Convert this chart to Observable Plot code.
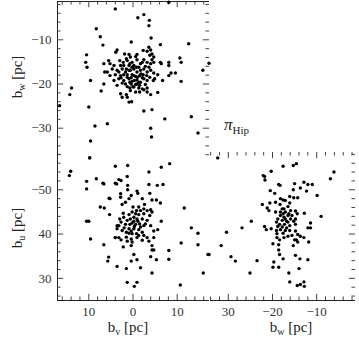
<!DOCTYPE html>
<html><head><meta charset="utf-8">
<script src="https://cdn.jsdelivr.net/npm/d3@7"></script>
<script src="https://cdn.jsdelivr.net/npm/@observablehq/plot@0.6"></script>
<style>
body{margin:0;background:#fff}
#c{position:relative;width:359px;height:341px}
#c svg{position:absolute;left:0;top:0;overflow:visible;background:transparent !important}
</style>
</head><body><div id="c"></div>
<script>
// ---- Panel A: b_w vs b_v (top left) ----
const topBv = [-8.1,4.0,-1.1,-2.45,-3.7,-3.6,-4.1,-12.6,-6.2,0.4,6.8,7.4,8.3,10.5,10.7,10.4,6.6,6.4,6.6,7.2,9.6,13.9,14.3,16.6,10.0,8.6,5.8,9.6,9.8,
 -10.6,-10.9,-8.1,-8.1,-6.2,-6.4,-17.2,-15.8,-9.6,-8.6,-8.1,-10.9,-6.7,-5.6,-2.45,-4.3,-7.2,-13.2,-4.0,-4.2,-14.7,-3.2,-4.0,0.9,0.3,2.8,2.45,1.5,1.3,
 -3.6,-4.0,-3.2,-2.3,-4.3,-3.8,-4.7,3.6,3.9,1.9,0.9,-0.9,-0.6,0.6,1.5,3.0,2.2,1.3,0.2,-0.9,-1.7,-2.45,-3.2,-4.0,-4.3,-4.7,5.5,5.2,4.3,2.8,0.9,-0.2,-1.3,-2.8,-3.6,
 5.8,4.7,3.6,2.45,1.7,0.6,-0.2,-0.9,-1.7,-2.45,-3.2,-4.0,-4.7,-5.6,4.0,2.8,1.3,0.2,-0.6,-1.5,-2.3,-3.1,-3.8,5.2,4.3,3.2,2.1,0.9,0.2,-0.9,-1.7,-2.45,-3.2,-4.6,-4.9,
 2.45,1.7,0.4,-0.6,-1.5,-2.8,3.6,0.7,-0.2,-1.3,-2.1,-3.2,0.6,-0.6,-2.45,-1.5,
 0.9,-0.2,-1.0,0.4,-0.3,0.7,1.3,2.1,-1.3,-2.1,1.5,0.2,-0.8,-1.8,0.7,2.1,-2.1,3.2,2.7,-0.9,0.0,1.3];
const topBw = [-1.5,-3.0,-5.0,-4.3,-5.6,-6.8,-9.6,-10.9,-11.1,-10.5,-11.2,-9.3,-7.5,-13.4,-15.1,-16.2,-15.4,-17.3,-20.0,-21.6,-19.2,-20.9,-22.4,-24.9,-25.2,-29.5,-29.0,-32.9,-36.7,
 -14.1,-15.1,-15.1,-15.8,-15.1,-15.4,-15.3,-16.9,-17.5,-17.5,-18.1,-19.4,-19.2,-21.9,-26.1,-25.8,-27.9,-27.4,-30.0,-32.0,-31.1,-21.8,-22.4,-24.1,-24.0,-22.2,-23.0,-22.4,-23.0,
 -11.7,-12.3,-12.6,-12.4,-13.2,-13.5,-13.9,-12.3,-12.8,-13.2,-13.3,-13.3,-13.8,-13.9,-14.3,-14.7,-15.1,-14.7,-15.1,-14.5,-15.4,-14.5,-15.1,-15.4,-14.5,-15.1,-14.7,-15.4,-15.8,-15.8,-15.8,-15.8,-16.2,-16.0,-16.2,
 -17.3,-16.6,-16.9,-16.6,-17.3,-16.9,-16.6,-17.3,-16.9,-16.6,-17.3,-16.9,-17.5,-17.9,-17.9,-18.1,-17.9,-17.9,-18.3,-18.1,-17.9,-18.1,-18.5,-18.1,-19.2,-18.8,-19.2,-18.8,-19.4,-19.1,-19.6,-18.8,-19.2,-19.2,-18.8,
 -19.8,-20.0,-20.0,-20.1,-20.3,-20.1,-20.3,-20.9,-20.7,-20.9,-21.1,-20.9,-21.5,-21.8,-21.3,-21.8,
 -16.9,-18.1,-18.5,-18.6,-19.2,-19.6,-18.5,-17.9,-19.6,-18.6,-16.6,-16.2,-16.2,-17.7,-15.4,-15.8,-15.1,-17.3,-18.6,-20.0,-20.6,-20.6];

// ---- Panel B: b_u vs b_v (bottom left) ----
const lowBv = [9.8,4.0,14.1,14.4,10.5,10.5,8.3,6.8,4.0,3.2,5.4,7.4,6.5,5.3,10.5,10.0,3.6,4.0,9.6,6.6,5.5,5.7,3.6,
 1.2,-6.4,-8.3,-3.6,6.6,3.7,2.7,1.3,1.2,1.2,-3.6,-5.5,-6.8,-3.8,-0.9,-1.1,2.8,2.8,0.4,0.9,5.2,-2.1,-4.3,-5.3,-6.2,-2.6,2.45,1.7,-11.6,
 2.2,-2.45,-3.2,-4.0,-4.3,-3.8,-1.7,0.2,-0.6,0.9,-1.3,-2.45,-0.2,-0.9,0.6,1.3,-2.1,-3.2,-6.4,2.7,3.2,1.7,0.2,-0.6,-1.5,-2.45,-4.0,
 3.6,2.45,0.9,-0.2,-1.3,-2.1,-4.7,-5.6,0.9,0.2,-0.8,4.0,3.2,2.7,1.5,0.4,-0.9,-3.2,-4.7,-13.2,-14.7,-10.9,-14.7,
 1.3,0.2,-2.1,-3.6,-4.3,-4.7,-4.3,-8.1,-0.2,-4.0,-0.9,0.4,-5.3,-8.1,-17.2,1.5,-1.7,-4.3,-15.9,1.3,-0.9,-0.3,-10.7,
 -0.2,-1.1,0.7,-0.3,0.4,-1.7,2.0,-0.8,0.0,-1.3,-2.8,1.5,-1.3,2.1,3.0,-2.45,0.4,2.2];
const lowBu = [57.2,55.3,54.2,53.2,51.9,50.2,52.5,51.5,51.5,52.3,48.1,46.1,45.9,44.4,42.9,42.9,41.9,39.2,38.9,37.6,34.8,33.9,32.7,
 55.5,55.1,55.9,54.0,51.3,51.3,52.1,53.0,51.0,50.0,51.2,51.0,51.2,49.2,49.7,49.2,49.1,48.3,48.7,48.0,48.0,48.0,47.7,47.7,47.0,46.7,46.7,47.2,45.9,
 44.7,45.7,45.3,45.5,45.0,44.2,45.3,45.0,44.6,44.4,44.4,44.6,43.8,43.4,43.4,43.1,43.4,43.1,42.9,42.7,41.9,42.2,42.5,42.2,42.3,41.9,41.9,
 41.2,40.8,41.2,41.2,41.0,40.4,40.7,41.0,40.2,40.1,40.1,39.2,39.2,38.7,39.3,38.9,39.2,39.2,39.2,41.4,40.2,38.0,37.6,
 38.4,38.2,38.6,38.4,37.4,36.4,36.4,36.3,35.4,34.9,34.2,33.9,34.2,34.3,35.4,32.2,32.4,31.2,31.2,29.1,29.1,28.2,28.5,
 42.9,42.9,42.2,41.7,40.7,41.6,41.4,45.3,46.1,46.1,42.3,40.4,39.7,43.8,43.4,39.7,37.4,37.1];

// ---- Panel C: b_u vs b_w (bottom right) ----
const rBw = [-32.4,-17.6,-15.3,-14.6,-6.1,-6.9,-22.1,-21.8,-21.7,-20.3,-18.6,-18.3,-15.0,-13.7,-12.9,-12.0,-11.0,-12.3,-15.3,-16.1,-15.2,-14.3,-9.9,-20.5,-19.5,
 -20.6,-22.3,-19.3,-18.3,-17.6,-17.1,-18.2,-16.1,-21.2,-20.8,-19.3,-17.8,-16.5,-17.1,-15.9,-14.8,-14.4,-12.8,-9.0,-18.2,-17.4,-16.5,-17.8,-16.8,-15.9,-15.2,
 -19.1,-18.4,-17.3,-16.1,-14.8,-11.4,-12.0,-11.4,-24.8,-26.9,-21.8,-21.4,-20.3,-19.1,-18.2,-17.1,-16.1,-14.8,-14.3,-30.4,-19.0,-17.6,-16.5,-15.6,-13.7,-12.9,-11.8,
 -19.0,-18.4,-17.4,-15.0,-14.3,-14.6,-19.9,-18.6,-15.3,-31.6,-34.6,-29.4,-28.4,-23.5,-18.6,-18.4,-17.6,-14.8,-13.8,-12.0,-19.7,-19.9,-18.6,-14.0,-25.1,-16.3,-16.1,-14.4,-13.7,-12.9,-12.8,
 -17.1,-17.6,-16.5,-17.8,-15.6,-18.8,-16.3,-17.4,-18.2,-14.8,-18.8,-16.8];
const rBu = [57.2,55.3,55.5,55.9,54.0,52.5,53.2,53.0,52.2,54.2,51.2,51.0,51.4,50.4,51.7,51.2,51.2,49.7,50.0,48.5,48.2,48.2,48.7,49.8,49.2,
 47.0,46.7,47.2,46.7,47.7,47.6,48.0,47.0,45.9,45.3,45.0,45.7,46.2,45.0,45.3,45.2,44.6,44.7,44.0,44.2,43.8,44.2,43.1,42.9,43.4,42.9,
 42.7,42.2,42.2,41.9,42.2,42.5,41.4,41.4,42.9,41.4,41.7,41.0,41.2,40.8,41.0,40.8,40.8,40.7,39.9,40.4,40.1,40.2,39.5,39.7,39.5,39.2,38.2,
 39.2,38.7,39.2,38.7,38.2,38.7,37.8,37.6,37.4,37.4,35.4,34.9,33.9,34.0,36.4,35.4,34.4,35.2,34.4,34.2,33.7,32.5,32.5,32.2,31.2,31.2,29.2,28.4,28.6,29.2,28.2,
 43.4,44.6,42.7,41.6,44.2,43.4,44.6,45.7,45.0,43.4,41.7,41.4];

// ---- axis ticks and labels ----
const bvMajor = [10, 0, -10];
const bvTickLabels = ["10", "0", "10"];
const bwMajor = [-10, -20, -30];
const bwTickLabels = ["\u221210", "\u221220", "\u221230"];
const buMajor = [50, 40, 30];
const buTickLabels = ["\u221250", "40", "30"];
const bwBottomMajor = [-30, -20, -10];
const bwBottomLabels = ["30", "\u221220", "\u221210"];

const bvMinor = d3.range(-16, 17, 2).filter(d => d % 10 !== 0);
const bwMinor = d3.range(-36, -1, 2).filter(d => d % 10 !== 0);
const buMinor = d3.range(26, 59, 2).filter(d => d % 10 !== 0);
const bwxMinor = d3.range(-34, -1, 2).filter(d => d % 10 !== 0);

// domains (edges of each frame)
const bvDom = [17.08, -17.31];
const bwTopDom = [-36.18, -1.33];
const buDom = [25.0, 58.42];
const bwRightDom = [-34.03, -1.22];

const FONT = "Liberation Serif";
const tMin = 0.8, tMaj = 1.4;
const LINE = "#222", TICK = "#444", LAB = "#333";

const toPts = (xs, ys) => xs.map((x, i) => ({x, y: ys[i]}));
const base = {width: 359, height: 341, style: {background: "transparent", fontFamily: FONT, overflow: "visible"}};

function dots(pts) { return Plot.dot(pts, {x: "x", y: "y", r: 1.7, fill: "black", stroke: "none"}); }

// Panel A (top)
const [xL, xR] = bvDom, [yB, yT] = bwTopDom;
const pA = Plot.plot({...base, marginLeft: 57, marginRight: 150, marginTop: 1, marginBottom: 186,
  x: {domain: bvDom, axis: null}, y: {domain: bwTopDom, axis: null},
  marks: [
    Plot.ruleX([xL], {stroke: LINE}),
    Plot.ruleY([yT], {stroke: LINE}),
    Plot.ruleX(bvMinor, {x: d => d, y1: yT, y2: yT - tMin, stroke: TICK}),
    Plot.ruleX(bvMajor, {x: d => d, y1: yT, y2: yT - tMaj, stroke: TICK}),
    Plot.ruleY(bwMinor, {y: d => d, x1: xL, x2: xL - tMin, stroke: TICK}),
    Plot.ruleY(bwMajor, {y: d => d, x1: xL, x2: xL - tMaj, stroke: TICK}),
    Plot.ruleY(bwMinor, {y: d => d, x1: xR, x2: xR + tMin, stroke: TICK}),
    Plot.ruleY(bwMajor, {y: d => d, x1: xR, x2: xR + tMaj, stroke: TICK}),
    Plot.text(bwMajor, {y: d => d, text: (d, i) => bwTickLabels[i], frameAnchor: "left", textAnchor: "end", dx: -6, fontSize: 13, fill: LAB}),
    dots(toPts(topBv, topBw))
  ]});

// Panel B (bottom left)
const [uB, uT] = buDom;
const pB = Plot.plot({...base, marginLeft: 57, marginRight: 150, marginTop: 152, marginBottom: 41,
  x: {domain: bvDom, axis: null}, y: {domain: buDom, axis: null},
  marks: [
    Plot.ruleX([xL], {stroke: LINE}),
    Plot.ruleY([uB], {stroke: LINE}),
    Plot.ruleX(bvMinor, {x: d => d, y1: uB, y2: uB + tMin, stroke: TICK}),
    Plot.ruleX(bvMajor, {x: d => d, y1: uB, y2: uB + tMaj, stroke: TICK}),
    Plot.ruleY(buMinor, {y: d => d, x1: xL, x2: xL - tMin, stroke: TICK}),
    Plot.ruleY(buMajor, {y: d => d, x1: xL, x2: xL - tMaj, stroke: TICK}),
    Plot.text(buMajor, {y: d => d, text: (d, i) => buTickLabels[i], frameAnchor: "left", textAnchor: "end", dx: -6, fontSize: 13, fill: LAB}),
    Plot.text(bvMajor, {x: d => d, text: (d, i) => bvTickLabels[i], frameAnchor: "bottom", lineAnchor: "top", dy: 6, fontSize: 13, fill: LAB}),
    dots(toPts(lowBv, lowBu))
  ]});

// Panel C (bottom right)
const [wL, wR] = bwRightDom;
const pC = Plot.plot({...base, marginLeft: 210, marginRight: 4, marginTop: 152, marginBottom: 41,
  x: {domain: bwRightDom, axis: null}, y: {domain: buDom, axis: null},
  marks: [
    Plot.ruleY([uB], {stroke: LINE}),
    Plot.ruleX(bwxMinor, {x: d => d, y1: uB, y2: uB + tMin, stroke: TICK}),
    Plot.ruleX(bwBottomMajor, {x: d => d, y1: uB, y2: uB + tMaj, stroke: TICK}),
    Plot.ruleX(bwxMinor, {x: d => d, y1: uT, y2: uT - tMin, stroke: TICK}),
    Plot.ruleX(bwBottomMajor, {x: d => d, y1: uT, y2: uT - tMaj, stroke: TICK}),
    Plot.ruleY(buMinor, {y: d => d, x1: wR, x2: wR - tMin, stroke: TICK}),
    Plot.ruleY(buMajor, {y: d => d, x1: wR, x2: wR - tMaj, stroke: TICK}),
    Plot.text(bwBottomMajor, {x: d => d, text: (d, i) => bwBottomLabels[i], frameAnchor: "bottom", lineAnchor: "top", dy: 6, fontSize: 13, fill: LAB}),
    dots(toPts(rBw, rBu))
  ]});

const c = document.getElementById("c");
[pA, pB, pC].forEach(p => c.appendChild(p));

// Axis titles with subscripts, and the pi_Hip note
const ov = d3.create("svg").attr("width", 359).attr("height", 341)
  .style("font-family", FONT).attr("fill", "#222");
function title(x, y, sub, rot) {
  const t = ov.append("text").attr("text-anchor", "middle").attr("font-size", 15)
    .attr("transform", `translate(${x},${y})` + (rot ? " rotate(-90)" : ""));
  t.append("tspan").text("b");
  t.append("tspan").attr("font-size", 10).attr("dy", 3).text(sub);
  t.append("tspan").attr("dy", -3).text(" [pc]");
}
title(22, 77, "w", true);
title(22, 228, "u", true);
title(128, 332, "v", false);
title(291, 332, "w", false);
const pi = ov.append("text").attr("x", 224).attr("y", 130).attr("font-size", 17);
pi.append("tspan").attr("font-style", "italic").text("\u03c0");
pi.append("tspan").attr("font-size", 11).attr("dy", 4).text("Hip");
c.appendChild(ov.node());
</script></body></html>
